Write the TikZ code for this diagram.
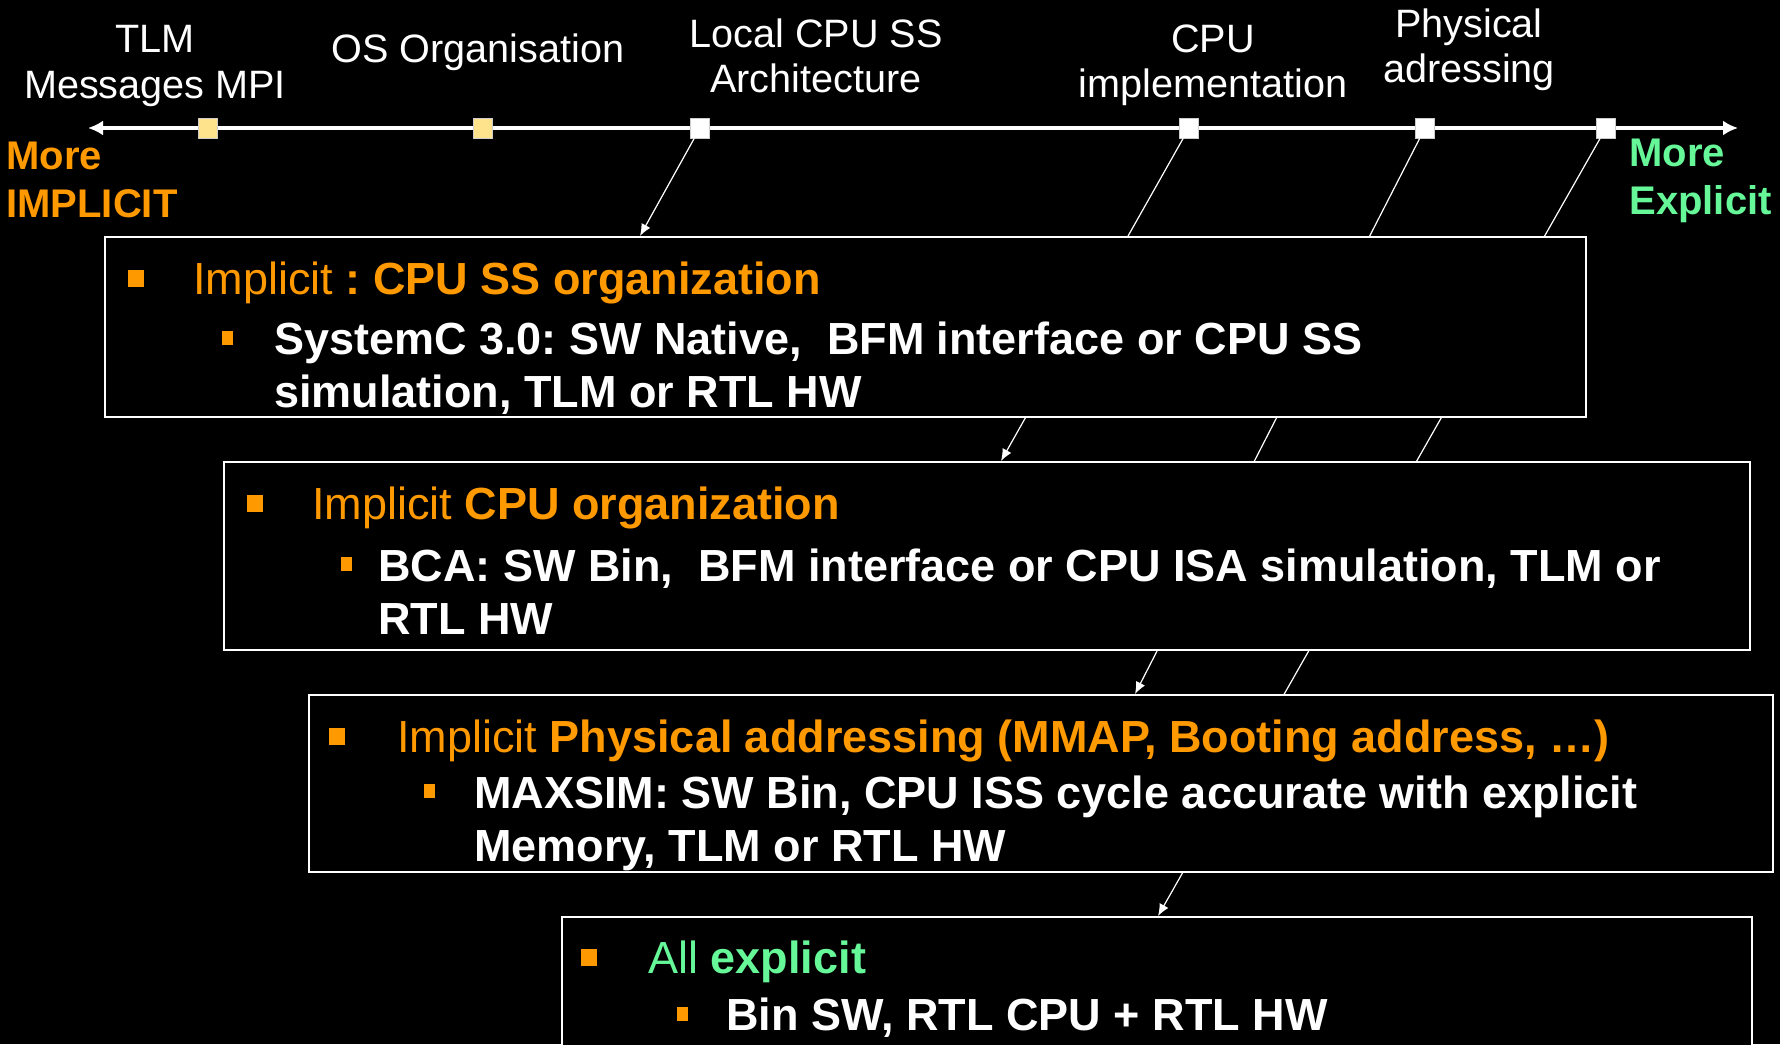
\documentclass[tikz,border=0pt]{standalone}
\usepackage{fontspec}
\setmainfont{Liberation Sans}
\usetikzlibrary{arrows.meta,fit}
\frenchspacing

\definecolor{implorange}{HTML}{FF9900}
\definecolor{explgreen}{HTML}{66F799}
\definecolor{markyellow}{HTML}{FFE38C}

\tikzset{
    lbl/.style={text=white, align=center, inner sep=0pt, font=\fontsize{19.8}{22.7}\selectfont},
    side/.style={align=left, inner sep=0pt, anchor=west, font=\bfseries\fontsize{20}{23.8}\selectfont},
    axmark/.style={draw=white!80!black, line width=0.4pt, fill=white, minimum width=9.5pt, minimum height=10pt, inner sep=0pt},
    box/.style={draw=white, line width=1pt, fill=black, inner sep=0pt},
    bulA/.style={fill=implorange, minimum width=8pt, minimum height=8.5pt, inner sep=0pt},
    bulB/.style={fill=implorange, minimum width=5.5pt, minimum height=7pt, inner sep=0pt},
    txt/.style={anchor=base west, inner sep=0pt, align=left, font=\fontsize{22.5}{26.5}\selectfont},
    link/.style={white, line width=0.6pt, -{Latex[length=6pt,width=5pt]}},
}

\begin{document}
\begin{tikzpicture}[x=0.5pt,y=-0.5pt]
    \fill[black] (0,0) rectangle (1780,1044);
    \useasboundingbox (0,0) rectangle (1780,1044);
    \clip (0,0) rectangle (1780,1044);

    % axis
    \coordinate (axl) at (88,128);
    \coordinate (axr) at (1738,128);
    \draw[white, line width=1.75pt, {Latex[length=7.5pt,width=7.5pt]}-{Latex[length=7.5pt,width=7.5pt]}] (axl) -- (axr);

    \node[axmark, fill=markyellow] (m1) at (207.5,128) {};
    \node[axmark, fill=markyellow] (m2) at (482.5,128) {};
    \node[axmark] (m3) at (700,128) {};
    \node[axmark] (m4) at (1189,128) {};
    \node[axmark] (m5) at (1425,128) {};
    \node[axmark] (m6) at (1606,128) {};

    \node[lbl] (n1) at (155,66) {TLM\\Messages MPI};
    \node[lbl] (n2) at (478,52) {OS Organisation};
    \node[lbl] (n3) at (816,56) {Local CPU SS\\Architecture};
    \node[lbl] (n4) at (1213,65) {CPU\\implementation};
    \node[lbl] (n5) at (1469,50) {Physical\\adressing};

    \node[side, text=implorange] (lo) at (6,180) {More\\IMPLICIT};
    \node[side, text=explgreen] (hi) at (1629,181) {More\\Explicit};

    % links (behind the boxes)
    \coordinate (t1) at (640,236);
    \coordinate (t2) at (1001,461);
    \coordinate (t3) at (1135,694);
    \coordinate (t4) at (1158,916);
    \draw[link] (m3) -- (t1);
    \draw[link] (m4) -- (t2);
    \draw[link] (m5) -- (t3);
    \draw[link] (m6) -- (t4);

    % boxes
    \node[box, fit={(105,237) (1586,417)}] (b1) {};
    \node[box, fit={(224,462) (1750,650)}] (b2) {};
    \node[box, fit={(309,695) (1773,872)}] (b3) {};
    \node[box, fit={(562,917) (1752,1080)}] (b4) {};

    % base = last line of the node
    \node[bulA] (p1) at (136,278) {};
    \node[txt, text=implorange] (s1) at (193,294) {Implicit \textbf{: CPU SS organization}};
    \node[bulB] (q1) at (227,338) {};
    \node[txt, text=white] (r1) at (274,407) {\bfseries SystemC 3.0: SW Native,\ \ BFM interface or CPU SS\\\bfseries simulation, TLM or RTL HW};

    \node[bulA] (p2) at (255,503) {};
    \node[txt, text=implorange] (s2) at (312,519) {Implicit \textbf{CPU organization}};
    \node[bulB] (q2) at (346,564) {};
    \node[txt, text=white] (r2) at (378,634) {\bfseries BCA: SW Bin,\ \ BFM interface or CPU ISA simulation, TLM or\\\bfseries RTL HW};

    \node[bulA] (p3) at (337,736) {};
    \node[txt, text=implorange] (s3) at (397,752) {Implicit \textbf{Physical addressing (MMAP, Booting address, …)}};
    \node[bulB] (q3) at (429,791) {};
    \node[txt, text=white] (r3) at (474,861) {\bfseries MAXSIM: SW Bin, CPU ISS cycle accurate with explicit\\\bfseries Memory, TLM or RTL HW};

    \node[bulA] (p4) at (589,957) {};
    \node[txt, text=explgreen] (s4) at (648,973) {All \textbf{explicit}};
    \node[bulB] (q4) at (682,1014) {};
    \node[txt, text=white] (r4) at (726,1030) {\bfseries Bin SW, RTL CPU + RTL HW};
\end{tikzpicture}
\end{document}
